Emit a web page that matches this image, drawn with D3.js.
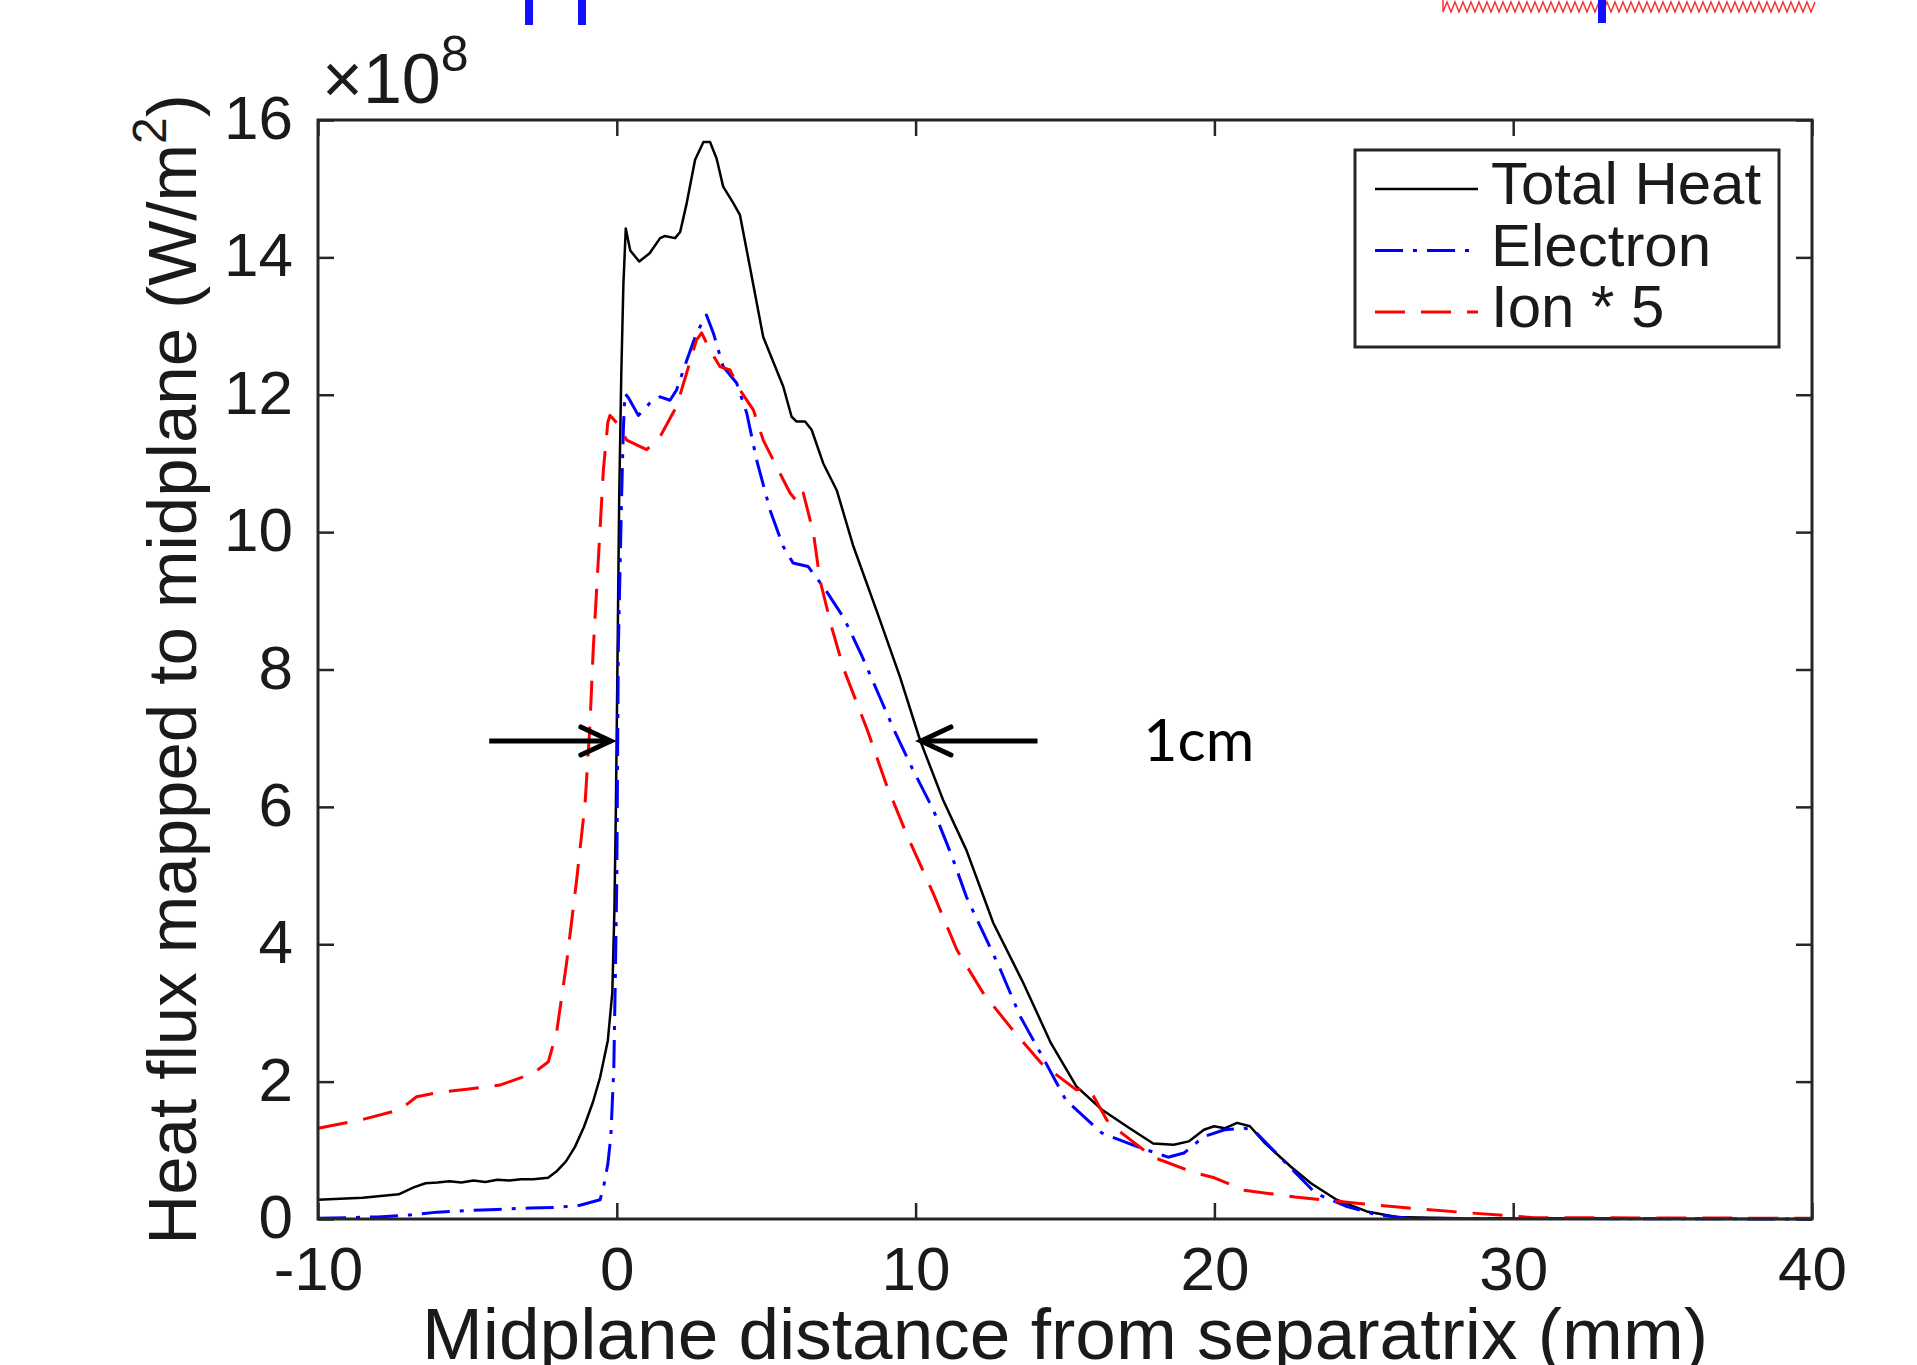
<!DOCTYPE html>
<html>
<head>
<meta charset="utf-8">
<script src="https://cdn.jsdelivr.net/npm/d3@7"></script>
<style>
  body { margin: 0; background: #fff; }
  svg { display: block; font-family: "Liberation Sans", Arial, sans-serif; }
</style>
</head>
<body>
<div id="chart"></div>
<script>
// values: [distance (mm), heat flux (x1e8 W/m^2)]
const totalHeat = [
  [-10, 0.28], [-8.5, 0.31], [-7.3, 0.36], [-6.8, 0.46], [-6.4, 0.52], [-6.0, 0.53],
  [-5.6, 0.55], [-5.2, 0.53], [-4.8, 0.56], [-4.4, 0.54], [-4.0, 0.57], [-3.6, 0.56],
  [-3.2, 0.58], [-2.8, 0.58], [-2.3, 0.6], [-2.0, 0.7], [-1.7, 0.84], [-1.4, 1.05],
  [-1.1, 1.34], [-0.8, 1.7], [-0.56, 2.06], [-0.3, 2.6], [-0.15, 3.3], [-0.08, 4.5],
  [-0.03, 6.0], [0.02, 8.0], [0.08, 10.5], [0.15, 12.3], [0.22, 13.6], [0.3, 14.42],
  [0.45, 14.1], [0.75, 13.94], [1.1, 14.06], [1.45, 14.28], [1.6, 14.31], [1.95, 14.28],
  [2.12, 14.37], [2.34, 14.79], [2.62, 15.42], [2.9, 15.68], [3.12, 15.68], [3.34, 15.44],
  [3.56, 15.03], [3.9, 14.79], [4.12, 14.62], [4.46, 13.85], [4.9, 12.84], [5.57, 12.12],
  [5.85, 11.68], [6.02, 11.61], [6.3, 11.61], [6.52, 11.49], [6.91, 11.0], [7.36, 10.61],
  [7.92, 9.79], [8.7, 8.85], [9.48, 7.89], [10.15, 6.97], [10.92, 6.1], [11.7, 5.37],
  [12.6, 4.31], [13.6, 3.44], [14.53, 2.56], [15.38, 1.93], [16.24, 1.59], [17.1, 1.34],
  [17.95, 1.1], [18.64, 1.08], [19.14, 1.13], [19.65, 1.3], [19.99, 1.35], [20.34, 1.32],
  [20.76, 1.4], [21.19, 1.35], [21.7, 1.1], [22.56, 0.76], [23.23, 0.52], [24.09, 0.28],
  [25.1, 0.11], [26.1, 0.03], [28, 0.01], [40, 0.0]
];

const electron = [
  [-10, 0.01], [-8, 0.03], [-6.9, 0.06], [-6, 0.1], [-5.15, 0.12], [-4, 0.14],
  [-2.9, 0.16], [-2, 0.17], [-1.23, 0.2], [-0.56, 0.28], [-0.45, 0.45], [-0.3, 0.8],
  [-0.2, 1.2], [-0.1, 2.2], [-0.05, 3.5], [0.0, 4.95], [0.05, 8.28], [0.16, 10.5],
  [0.22, 11.5], [0.27, 12.02], [0.4, 11.95], [0.72, 11.7], [1.11, 11.88], [1.45, 11.97],
  [1.78, 11.92], [2.0, 12.07], [2.34, 12.5], [2.67, 12.9], [3.0, 13.16], [3.23, 12.9],
  [3.56, 12.41], [4.01, 12.17], [4.35, 11.73], [4.68, 11.05], [5.13, 10.32], [5.57, 9.79],
  [5.9, 9.55], [6.4, 9.5], [7.0, 9.15], [7.6, 8.75], [8.2, 8.2], [8.8, 7.6],
  [9.3, 7.1], [9.9, 6.55], [10.6, 5.95], [11.2, 5.3], [11.7, 4.69], [12.8, 3.67],
  [13.5, 2.95], [14.2, 2.4], [15.03, 1.73], [16.24, 1.25], [17.44, 1.05], [18.45, 0.9],
  [18.98, 0.96], [19.65, 1.2], [20.34, 1.3], [21.0, 1.32], [21.3, 1.3], [22.4, 0.81],
  [23.4, 0.37], [24.44, 0.18], [25.46, 0.06], [26.5, 0.01], [40, 0.0]
];

const ion = [
  [-10, 1.32], [-8.5, 1.45], [-7.26, 1.59], [-6.7, 1.78], [-6, 1.84], [-5.02, 1.89],
  [-3.91, 1.95], [-2.8, 2.12], [-2.29, 2.29], [-2.01, 2.73], [-1.68, 3.73], [-1.34, 4.95],
  [-1.06, 6.06], [-0.9, 7.18], [-0.79, 8.28], [-0.6, 9.74], [-0.45, 10.9], [-0.3, 11.6],
  [-0.23, 11.7], [0.0, 11.59], [0.33, 11.34], [1.0, 11.2], [1.45, 11.39], [2.0, 11.83],
  [2.34, 12.32], [2.67, 12.8], [2.84, 12.9], [3.12, 12.65], [3.45, 12.41], [3.79, 12.36],
  [4.12, 12.07], [4.57, 11.78], [4.9, 11.34], [5.35, 10.95], [5.8, 10.57], [6.07, 10.42],
  [6.24, 10.57], [6.58, 9.99], [6.8, 9.3], [7.2, 8.6], [7.6, 8.0], [8.4, 7.1],
  [9.0, 6.35], [9.7, 5.6], [10.59, 4.74], [11.38, 3.92], [12.26, 3.29], [13.16, 2.8],
  [14.2, 2.27], [15.38, 1.88], [15.7, 1.9], [15.9, 1.83], [16.4, 1.44], [16.9, 1.25],
  [17.95, 0.9], [19.3, 0.68], [20.0, 0.6], [21.0, 0.42], [22.7, 0.32], [24.77, 0.23],
  [26.5, 0.16], [28.5, 0.09], [30.7, 0.02], [40, 0.01]
];

const xTicks = [-10, 0, 10, 20, 30, 40];
const yTicks = [0, 2, 4, 6, 8, 10, 12, 14, 16];
const seriesNames = ['Total Heat', 'Electron', 'Ion * 5'];

// annotation arrows marking the 1 cm width, [from x, to x, at y]
const arrows = [[-4.27, -0.2, 6.96], [14.08, 10.18, 6.96]];
const noteLabel = { x: 17.62, y: 6.96, text: '1cm' };

const width = 1917;
const height = 1365;
const margin = { top: 120, right: 105, bottom: 146, left: 318 };
const innerW = width - margin.left - margin.right;
const innerH = height - margin.top - margin.bottom;
const axisColor = '#262626';

const svg = d3.select('#chart')
  .append('svg')
  .attr('width', width)
  .attr('height', height);

svg.append('rect')
  .attr('width', width)
  .attr('height', height)
  .attr('fill', '#fff');

// cut-off slide title remnants along the top edge
let squiggle = 'M1443,0';
for (let x = 1443, up = true; x <= 1815; x += 4, up = !up) {
  squiggle += `L${x},${up ? 12 : 2}`;
}
svg.append('path')
  .attr('d', squiggle)
  .attr('fill', 'none')
  .attr('stroke', '#ff3030')
  .attr('stroke-width', 1.5);
[[525, 25], [578, 25], [1598, 23]].forEach(([x, h]) => {
  svg.append('rect')
    .attr('x', x).attr('y', 0)
    .attr('width', 8).attr('height', h)
    .attr('fill', '#1010ff');
});

const chart = svg.append('g')
  .attr('transform', `translate(${margin.left}, ${margin.top})`);

const xScale = d3.scaleLinear()
  .domain([-10, 40])
  .range([0, innerW]);

const yScale = d3.scaleLinear()
  .domain([0, 16])
  .range([innerH, 0]);

// axes with inward ticks on all four sides
const tickLen = 16;
const styleAxis = (g) => {
  g.select('.domain').remove();
  g.selectAll('.tick line').attr('stroke', axisColor).attr('stroke-width', 2.5);
  g.selectAll('.tick text')
    .attr('fill', '#1a1a1a')
    .attr('font-size', 62)
    .attr('font-family', '"Liberation Sans", Arial, sans-serif');
};

chart.append('g')
  .attr('transform', `translate(0, ${innerH})`)
  .call(d3.axisBottom(xScale).tickValues(xTicks).tickFormat(d => String(d))
    .tickSizeInner(-tickLen).tickSizeOuter(0).tickPadding(26))
  .call(styleAxis)
  .call(g => g.selectAll('.tick text').attr('dy', '0.72em'));

chart.append('g')
  .call(d3.axisTop(xScale).tickValues(xTicks).tickSizeInner(-tickLen).tickSizeOuter(0).tickFormat(''))
  .call(styleAxis);

chart.append('g')
  .call(d3.axisLeft(yScale).tickValues(yTicks).tickFormat(d => String(d))
    .tickSizeInner(-tickLen).tickSizeOuter(0).tickPadding(25))
  .call(styleAxis)
  .call(g => g.selectAll('.tick text').attr('dy', '0.3em'));

chart.append('g')
  .attr('transform', `translate(${innerW}, 0)`)
  .call(d3.axisRight(yScale).tickValues(yTicks).tickSizeInner(-tickLen).tickSizeOuter(0).tickFormat(''))
  .call(styleAxis);

// exponent label
const expo = chart.append('text')
  .attr('x', 4)
  .attr('y', -17)
  .attr('fill', '#1a1a1a')
  .attr('font-size', 70);
expo.append('tspan').attr('font-weight', 300).text('\u00d7');
expo.append('tspan').text('10');
expo.append('tspan').attr('font-size', 50).attr('dy', -32).text('8');

// axis labels
chart.append('text')
  .attr('x', innerW / 2)
  .attr('y', innerH + 140)
  .attr('text-anchor', 'middle')
  .attr('fill', '#1a1a1a')
  .attr('font-size', 73)
  .text('Midplane distance from separatrix (mm)');

const yLabel = chart.append('text')
  .attr('transform', `translate(${196 - margin.left}, ${innerH / 2}) rotate(-90)`)
  .attr('text-anchor', 'middle')
  .attr('fill', '#1a1a1a')
  .attr('font-size', 69);
yLabel.append('tspan').text('Heat flux mapped to midplane (W/m');
yLabel.append('tspan').attr('font-size', 48).attr('dy', -30).text('2');
yLabel.append('tspan').attr('dy', 30).text(')');

// series
const line = d3.line()
  .x(d => xScale(d[0]))
  .y(d => yScale(d[1]));

const series = [
  { data: totalHeat, color: '#000000', width: 2.5, dash: null },
  { data: electron, color: '#0000ff', width: 3, dash: '28,10,4,10' },
  { data: ion, color: '#ff0000', width: 3, dash: '30,16' }
];

series.forEach(s => {
  chart.append('path')
    .datum(s.data)
    .attr('d', line)
    .attr('fill', 'none')
    .attr('stroke', s.color)
    .attr('stroke-width', s.width)
    .attr('stroke-linejoin', 'round')
    .attr('stroke-dasharray', s.dash);
});

// plot frame
chart.append('rect')
  .attr('width', innerW)
  .attr('height', innerH)
  .attr('fill', 'none')
  .attr('stroke', axisColor)
  .attr('stroke-width', 3);

// arrows
arrows.forEach(([x1, x2, y]) => {
  const px1 = xScale(x1), px2 = xScale(x2), py = yScale(y);
  const dir = px2 > px1 ? 1 : -1;
  chart.append('line')
    .attr('x1', px1).attr('x2', px2 - dir * 3)
    .attr('y1', py).attr('y2', py)
    .attr('stroke', '#000')
    .attr('stroke-width', 5);
  chart.append('path')
    .attr('d', `M${px2 - dir * 30},${py - 14}L${px2},${py}L${px2 - dir * 30},${py + 14}`)
    .attr('fill', 'none')
    .attr('stroke', '#000')
    .attr('stroke-width', 5)
    .attr('stroke-linecap', 'round')
    .attr('stroke-linejoin', 'miter');
});

chart.append('text')
  .attr('x', xScale(noteLabel.x))
  .attr('y', yScale(noteLabel.y) + 20)
  .attr('font-family', 'Lato, "Open Sans", sans-serif')
  .attr('font-size', 59)
  .attr('fill', '#000')
  .text(noteLabel.text);

// legend
const legend = chart.append('g')
  .attr('transform', `translate(${1355 - margin.left}, ${150 - margin.top})`);

legend.append('rect')
  .attr('width', 424)
  .attr('height', 197)
  .attr('fill', '#fff')
  .attr('stroke', axisColor)
  .attr('stroke-width', 3);

series.forEach((s, i) => {
  const ly = 39 + i * 61.5;
  legend.append('line')
    .attr('x1', 20).attr('x2', 123)
    .attr('y1', ly).attr('y2', ly)
    .attr('stroke', s.color)
    .attr('stroke-width', s.width)
    .attr('stroke-dasharray', s.dash);
  legend.append('text')
    .attr('x', 136)
    .attr('y', ly + 15)
    .attr('font-size', 60)
    .attr('fill', '#1a1a1a')
    .text(seriesNames[i]);
});
</script>
</body>
</html>
